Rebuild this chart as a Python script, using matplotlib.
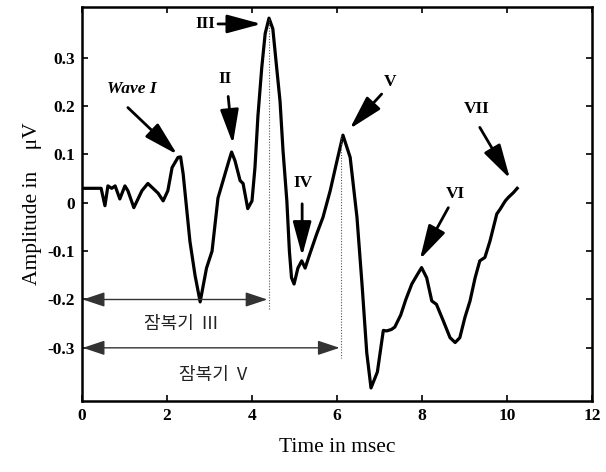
import matplotlib
matplotlib.use("Agg")
import matplotlib.pyplot as plt

plt.rcParams['font.family'] = ['Liberation Serif', 'DejaVu Serif']

# 파형 데이터
time_ms = [0.00, 0.45, 0.54, 0.61, 0.70, 0.78, 0.89, 1.01, 1.08, 1.22, 1.41,
           1.55, 1.67, 1.79, 1.91, 2.02, 2.12, 2.26, 2.32, 2.38, 2.54, 2.66,
           2.78, 2.93, 3.06, 3.20, 3.32, 3.45, 3.52, 3.60, 3.72, 3.79, 3.90,
           4.00, 4.07, 4.14, 4.23, 4.31, 4.40, 4.49, 4.58, 4.66, 4.73, 4.82,
           4.88, 4.93, 4.99, 5.08, 5.17, 5.25, 5.36, 5.52, 5.67, 5.84, 6.00,
           6.14, 6.31, 6.47, 6.59, 6.70, 6.80, 6.95, 7.09, 7.17, 7.28, 7.36,
           7.50, 7.62, 7.76, 7.88, 7.99, 8.11, 8.23, 8.34, 8.50, 8.66, 8.78,
           8.89, 9.01, 9.13, 9.25, 9.36, 9.48, 9.60, 9.68, 9.76, 9.84, 9.91,
           9.96, 10.03, 10.15, 10.24]
amp_uv = [0.030, 0.030, -0.006, 0.035, 0.030, 0.035, 0.008, 0.035, 0.025, -0.010, 0.025,
          0.040, 0.030, 0.020, 0.004, 0.025, 0.073, 0.094, 0.095, 0.060, -0.080, -0.150,
          -0.205, -0.135, -0.100, 0.010, 0.046, 0.085, 0.105, 0.087, 0.046, 0.040, -0.012,
          0.004, 0.073, 0.180, 0.280, 0.350, 0.382, 0.360, 0.280, 0.210, 0.108, 0.004,
          -0.100, -0.155, -0.168, -0.135, -0.120, -0.135, -0.106, -0.065, -0.030, 0.025, 0.087,
          0.140, 0.094, -0.030, -0.170, -0.310, -0.383, -0.350, -0.264, -0.265, -0.262, -0.257,
          -0.232, -0.200, -0.168, -0.150, -0.134, -0.155, -0.203, -0.210, -0.244, -0.279, -0.289,
          -0.279, -0.237, -0.203, -0.155, -0.120, -0.113, -0.079, -0.051, -0.023, -0.013, -0.003,
          0.004, 0.011, 0.021, 0.030]

# 피크 표시 (라벨, 글자 위치, 화살표 꼬리, 화살표 머리)
peak_labels = ["Wave I", "II", "IV", "V", "VI", "VII"]
label_xy = [(1.17, 0.236), (3.36, 0.256), (5.2, 0.04), (7.25, 0.25), (8.78, 0.018), (9.29, 0.194)]
tail_xy = [(1.08, 0.197), (3.44, 0.22), (5.18, -0.002), (7.05, 0.225), (8.62, -0.01), (9.36, 0.156)]
head_xy = [(2.24, 0.10), (3.55, 0.122), (5.18, -0.11), (6.3, 0.153), (7.95, -0.117), (10.07, 0.05)]

# 잠복기 (latency)
latency_labels = ["잠복기  III", "잠복기  V"]
latency_end = [4.4, 6.1]
latency_y = [-0.2, -0.3]
latency_peak = [0.38, 0.14]
latency_text_xy = [(2.32, -0.25), (3.09, -0.357)]

fig = plt.figure(figsize=(6.06, 4.72), dpi=100)
ax = fig.add_axes([0.1353, 0.1504, 0.8416, 0.8347])

ax.plot(time_ms, amp_uv, color="black", lw=2.3, solid_joinstyle="round")

# 화살표 (굵은 검정)
big_arrow = dict(arrowstyle="-|>,head_length=1.0,head_width=0.27", color="black",
                 lw=2.0, mutation_scale=21, shrinkA=0, shrinkB=0)
for lab, lxy, txy, hxy in zip(peak_labels, label_xy, tail_xy, head_xy):
    style = "italic" if lab.startswith("Wave") else "normal"
    ax.text(lxy[0], lxy[1], lab, ha="center", va="center", fontsize=12.5,
            fontweight="bold", fontstyle=style)
    ax.annotate("", xy=hxy, xytext=txy, arrowprops=big_arrow)

# III 는 가로 화살표
ax.text(2.9, 0.37, "III", ha="center", va="center", fontsize=12.5, fontweight="bold")
ax.annotate("", xy=(4.22, 0.37), xytext=(3.2, 0.37), arrowprops=big_arrow)

# 잠복기 화살표 + 점선
thin_arrow = dict(arrowstyle="<|-|>,head_length=0.9,head_width=0.3", color="#333333",
                  lw=1.0, mutation_scale=15, shrinkA=0, shrinkB=0)
for lab, xend, yv, ypk, txy in zip(latency_labels, latency_end, latency_y, latency_peak, latency_text_xy):
    ax.plot([xend, xend], [ypk, yv - 0.022], color="#555555", lw=0.8, ls=(0, (1, 1.5)))
    ax.annotate("", xy=(xend - 0.04, yv), xytext=(0.02, yv), arrowprops=thin_arrow)
    ax.text(txy[0], txy[1], lab, ha="center", va="center", fontsize=13,
            family=["Noto Sans CJK KR", "DejaVu Sans"], color="#222222")

ax.set_xlim(0, 12)
ax.set_ylim(-0.41, 0.405)
ax.set_xticks([0, 2, 4, 6, 8, 10, 12])
ax.set_yticks([-0.3, -0.2, -0.1, 0, 0.1, 0.2, 0.3])
ax.set_yticklabels(["-0.3", "-0.2", "-0.1", "0", "0.1", "0.2", "0.3"])
ax.tick_params(direction="in", length=4, width=1.2, top=True, right=True,
               labelsize=12.5, pad=5)
for lab in ax.get_xticklabels() + ax.get_yticklabels():
    lab.set_fontweight("bold")
for s in ax.spines.values():
    s.set_linewidth(1.8)

ax.set_xlabel("Time in msec", fontsize=15.5, labelpad=10)
ax.set_ylabel("Amplitude in    μV", fontsize=15.5, labelpad=4)

fig.savefig("out.png", dpi=100)
